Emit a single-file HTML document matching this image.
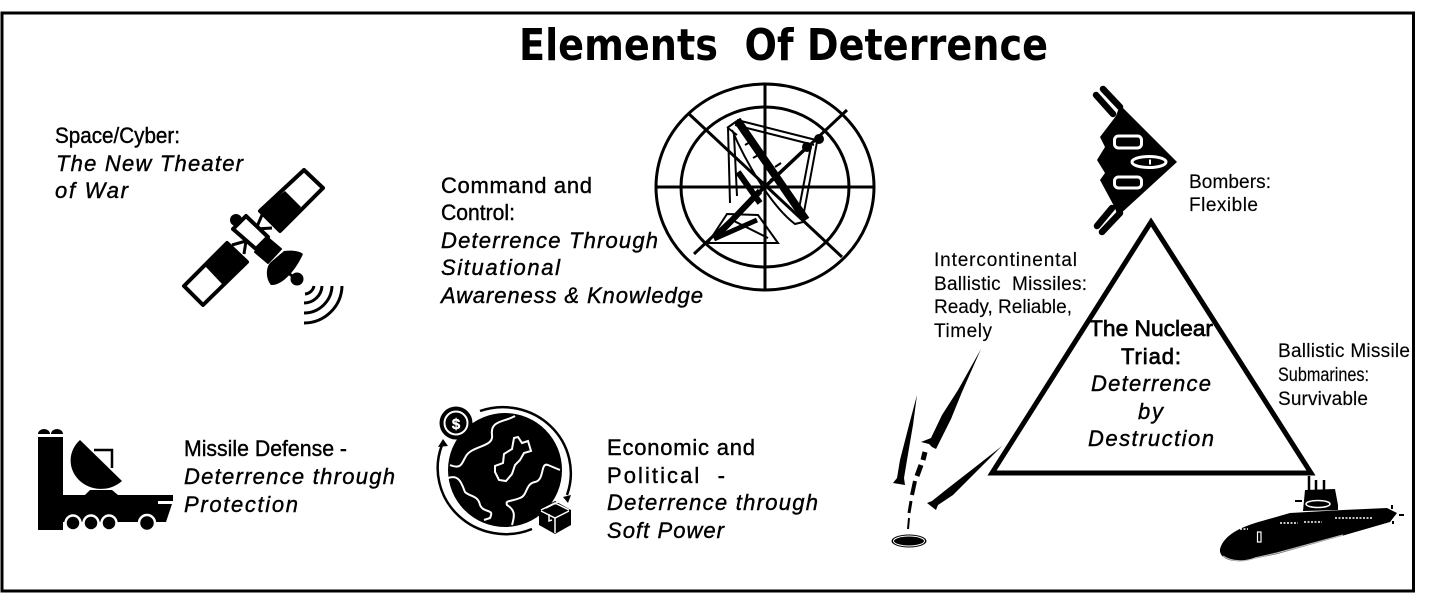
<!DOCTYPE html>
<html><head><meta charset="utf-8"><style>
html,body{margin:0;padding:0;background:#fff;width:1430px;height:615px;overflow:hidden}
svg{display:block}
text{font-family:"Liberation Sans","DejaVu Sans",sans-serif;fill:#000;font-size:22px;stroke:#000;stroke-width:.4}
.i{font-style:italic}
.s{font-size:19px;stroke-width:.15}
.b{stroke-width:.7}
.t{font-family:"DejaVu Sans","Liberation Sans",sans-serif;font-weight:bold;font-size:44px;stroke-width:0}
</style></head><body>
<svg width="1430" height="615" viewBox="0 0 1430 615" xmlns="http://www.w3.org/2000/svg">
<rect width="1430" height="615" fill="#fff"/>
<rect x="2" y="13" width="1411.500" height="578" fill="none" stroke="#000" stroke-width="3"/>

<text x="519" y="60" class="t" textLength="529" lengthAdjust="spacingAndGlyphs" xml:space="preserve">Elements  Of Deterrence</text>

<!-- labels -->
<text x="55" y="143" textLength="125" lengthAdjust="spacingAndGlyphs">Space/Cyber:</text>
<text x="56" y="171" class="i" textLength="187">The New Theater</text>
<text x="55" y="198" class="i" textLength="73">of War</text>

<text x="441" y="193" textLength="151">Command and</text>
<text x="441" y="220" textLength="74" lengthAdjust="spacingAndGlyphs">Control:</text>
<text x="441" y="248" class="i" textLength="217">Deterrence Through</text>
<text x="441" y="275" class="i" textLength="119">Situational</text>
<text x="441" y="303" class="i" textLength="262">Awareness &amp; Knowledge</text>

<text x="184" y="456" textLength="163" lengthAdjust="spacingAndGlyphs">Missile Defense -</text>
<text x="184" y="484" class="i" textLength="211">Deterrence through</text>
<text x="184" y="512" class="i" textLength="114">Protection</text>

<text x="607" y="455" textLength="148">Economic and</text>
<text x="607" y="483" textLength="118" xml:space="preserve">Political  -</text>
<text x="607" y="510" class="i" textLength="211">Deterrence through</text>
<text x="607" y="538" class="i" textLength="117">Soft Power</text>

<text x="1189" y="188" class="s" textLength="82">Bombers:</text>
<text x="1189" y="211" class="s" textLength="69">Flexible</text>

<text x="934" y="266" class="s" textLength="143">Intercontinental</text>
<text x="934" y="290" class="s" textLength="153" xml:space="preserve">Ballistic  Missiles:</text>
<text x="934" y="313" class="s" textLength="138">Ready, Reliable,</text>
<text x="934" y="337" class="s" textLength="58">Timely</text>

<text x="1278" y="357" class="s" textLength="132">Ballistic Missile</text>
<text x="1278" y="381" class="s" textLength="91" lengthAdjust="spacingAndGlyphs">Submarines:</text>
<text x="1278" y="405" class="s" textLength="90">Survivable</text>

<!-- triangle -->
<path d="M1151 222 L1311 473 L992 473 Z" fill="none" stroke="#000" stroke-width="5" stroke-linejoin="miter"/>

<text x="1089" y="336" class="b" textLength="124" lengthAdjust="spacingAndGlyphs">The Nuclear</text>
<text x="1121" y="364" class="b" textLength="60">Triad:</text>
<text x="1091" y="391" class="i" textLength="120">Deterrence</text>
<text x="1138" y="419" class="i" textLength="25">by</text>
<text x="1088" y="446" class="i" textLength="126">Destruction</text>

<!-- satellite -->
<g stroke-linejoin="round">
<path d="M304 170 L323 188 L280 231 L260 211 Z" fill="#fff" stroke="#000" stroke-width="4"/>
<path d="M285 191 L301 207 L280 231 L260 211 Z" fill="#000"/>
<path d="M184 286 L203 305 L247 262 L227 243 Z" fill="#fff" stroke="#000" stroke-width="4"/>
<path d="M205 266 L222 284 L247 262 L227 243 Z" fill="#000"/>
<path d="M262 215 L256 229 L272 228 M232 245 L246 241 L244 254" fill="none" stroke="#000" stroke-width="3"/>
<path d="M246 216 L268 237 L256 249 L233 229 Z" fill="#fff" stroke="#000" stroke-width="4"/>
<circle cx="236" cy="220" r="6"/>
<path d="M255 252 L268 238 L281 249 L268 263 Z" fill="#000" stroke="#000" stroke-width="2"/>
<path d="M284 251 C292 250 300 251 303 254 C296 270 282 286 271 285 C265 278 266 266 271 262 Z" fill="#000"/>
<path d="M282 268 L296 279" stroke="#000" stroke-width="3"/>
<circle cx="297" cy="279" r="6.500"/>
<path d="M304 323 A38 38 0 0 0 342 286 M304 313 A28 28 0 0 0 332 286 M304 303 A18 18 0 0 0 322 286 M305 294 A10 10 0 0 0 314 286" fill="none" stroke="#000" stroke-width="3"/>
</g>

<!-- radar dish with cross-hairs -->
<g fill="none" stroke="#000">
<ellipse cx="765" cy="187" rx="109" ry="103" stroke-width="3"/>
<ellipse cx="765" cy="187" rx="84" ry="80" stroke-width="3"/>
<path d="M765 84 V290 M656 187 H874 M688 113 L842 257 M847 110 L694 254" stroke-width="3"/>
<path d="M737 120 L806 220" stroke-width="8"/>
<path d="M738 172 L760 203" stroke-width="6"/>
<path d="M715 238 L760 191" stroke-width="6"/>
<path d="M760 191 L807 147" stroke-width="3"/>
<path d="M737 120 L816 140 M735 125 L814 145 M817 142 L804 212 M811 146 L798 214 M728 128 L730 203 M734 135 L737 196 M727 128 L737 121 M732 130 C745 160 770 205 795 224 L803 222 M745 145 L752 141 M753 158 L760 154 M775 167 L781 163 M770 180 L778 176 M728 128 L737 135" stroke-width="2"/>
<path d="M727 214 L758 215 L778 243 L708 243 Z M732 220 L768 238" stroke-width="2"/>
<path d="M714 239 L757 220" stroke-width="5"/>
<circle cx="807" cy="147" r="4.500" fill="#000"/>
<circle cx="819" cy="139" r="4.500" fill="#000"/>
</g>

<!-- bomber -->
<g>
<path d="M1120 105 L1177 162 L1118 216 L1114 206 L1100 180 L1105 173 L1097 160 L1105 147 L1100 137 L1116 116 Z" fill="#000"/>
<path d="M1096 95 L1113 114 M1103 89 L1120 107 M1097 226 L1112 208 M1102 232 L1120 213" stroke="#000" stroke-width="6.500" stroke-linecap="round"/>
<rect x="1114.500" y="136" width="27" height="12" rx="4" fill="none" stroke="#fff" stroke-width="3"/>
<rect x="1114.500" y="177" width="27" height="11" rx="4" fill="none" stroke="#fff" stroke-width="3"/>
<ellipse cx="1149" cy="162" rx="17" ry="5.500" fill="none" stroke="#fff" stroke-width="3"/>
<path d="M1150 159.500 V164.500" stroke="#fff" stroke-width="2"/>
</g>

<!-- missile defense truck -->
<g>
<path d="M38 434 A6 5 0 0 1 50 434 Z M51 434 A6 5 0 0 1 63 434 Z"/>
<path d="M38 437 H63 V495 H173 V501 H158 V504 H172 L166 522 H63 V530 H38 Z"/>
<path d="M80 440 L122 481 A30 28 0 0 1 80 440 Z" fill="#000"/>
<path d="M94 450 H112 V468" fill="none" stroke="#000" stroke-width="2.500"/>
<path d="M85 495 L90 490 H112 L118 495 Z"/>
<g stroke="#fff" stroke-width="2.500" fill="#000">
<circle cx="73" cy="523" r="7.500"/><circle cx="91" cy="523" r="7.500"/><circle cx="109" cy="523" r="7.500"/><circle cx="147" cy="523" r="8"/>
</g>
</g>

<!-- globe -->
<g>
<circle cx="505" cy="470" r="57"/>
<g fill="none" stroke="#fff" stroke-width="2">
<path d="M515 416 C505 422 490 420 492 435 C494 448 470 445 465 458 C462 462 462 470 450 465"/>
<path d="M448 478 C460 474 462 485 465 492 C470 497 478 495 480 505 C484 514 495 508 490 518 L484 520"/>
<path d="M560 470 L548 465 C540 462 545 480 535 482 C525 484 528 495 520 498 C510 502 505 500 507 505 C515 510 515 515 512 525"/>
<path d="M514 438 L518 437 L522 443 L528 441 L531 451 L524 453 L520 460 L515 465 L512 474 L506 481 L499 480 L495 472 L495 466 L503 463 L504 454 L512 449 Z"/>
</g>
<path d="M480 411 A68 66 0 0 1 567 495 M442 445 A68 66 0 0 0 532 529" fill="none" stroke="#000" stroke-width="2.500"/>
<path d="M563 497 L568 503 L571 495 Z M438 447 L443 439 L448 446 Z"/>
<circle cx="456" cy="423" r="16.500"/>
<circle cx="456" cy="423" r="11.500" fill="none" stroke="#fff" stroke-width="2"/>
<text x="456" y="429" text-anchor="middle" style="fill:#fff;stroke:#fff;font-size:15px;font-weight:bold">$</text>
<path d="M539 510 L555 501 L571 510 V525 L555 534 L539 525 Z"/>
<path d="M541 510 L555 503 L569 510 M541 511 L555 518 L569 511 M555 518 V533 M546 508 L560 501 M549 514 V521 L552 520" fill="none" stroke="#fff" stroke-width="1.500"/>
</g>

<!-- missiles -->
<g>
<path d="M981 349 L962 392 L951 419 L939 443 L936 449 L932 447 L929 444 L921 442 L931 438 L942 415 L958 390 Z"/>
<path d="M917 395 L913 425 L907 460 L904 478 L905 485 L893 483 L897 478 L900 460 L909 425 Z"/>
<path d="M1002 446 L976 472 L953 495 L938 505 L936 510 L927 503 L932 501 L947 489 L974 468 Z"/>
<path d="M925 452 L923 460" stroke="#000" stroke-width="5" fill="none"/>
<path d="M921 465 L917 476" stroke="#000" stroke-width="5" fill="none"/>
<path d="M915 481 L912 495" stroke="#000" stroke-width="4" fill="none"/>
<path d="M911 501 L909 513" stroke="#000" stroke-width="3" fill="none"/>
<path d="M909 518 L908 529" stroke="#000" stroke-width="2" fill="none"/>
<ellipse cx="909" cy="541" rx="17.500" ry="6.500" fill="#000"/>
<ellipse cx="909" cy="541" rx="15.500" ry="5" fill="none" stroke="#fff" stroke-width="1"/>
</g>

<!-- submarine -->
<g>
<path d="M1309 476 V492 M1316 480 V492 M1324 480 V492" stroke="#000" stroke-width="2.500"/>
<path d="M1305 490 L1335 489 L1338 505 L1338 510 L1303 511 Z"/>
<ellipse cx="1318" cy="504" rx="12" ry="3.500" fill="none" stroke="#fff" stroke-width="1.500"/>
<path d="M1220 549 C1224 535 1240 527 1262 521 L1290 513 L1343 510 L1387 508 L1397 513 L1390 522 L1345 535 L1277 554 L1243 561 C1230 562 1219 558 1220 549 Z"/>
<path d="M1223 556 C1232 562 1245 562 1255 558 L1277 553 L1343 535" fill="none" stroke="#bbb" stroke-width="1.200"/>
<path d="M1280 523 H1298 M1304 522 H1322 M1335 518 H1372" stroke="#fff" stroke-width="1.500" stroke-dasharray="2 1.500"/>
<path d="M1240 529 H1248" stroke="#fff" stroke-width="1.500" stroke-dasharray="2 1.500"/>
<rect x="1257.500" y="532" width="3.500" height="10" fill="none" stroke="#fff" stroke-width="1.200"/>
<path d="M1392 505 V509 M1399 515 H1404 M1393 521 V524 M1295 501 H1302" stroke="#000" stroke-width="2"/>
</g>
</svg>
</body></html>
